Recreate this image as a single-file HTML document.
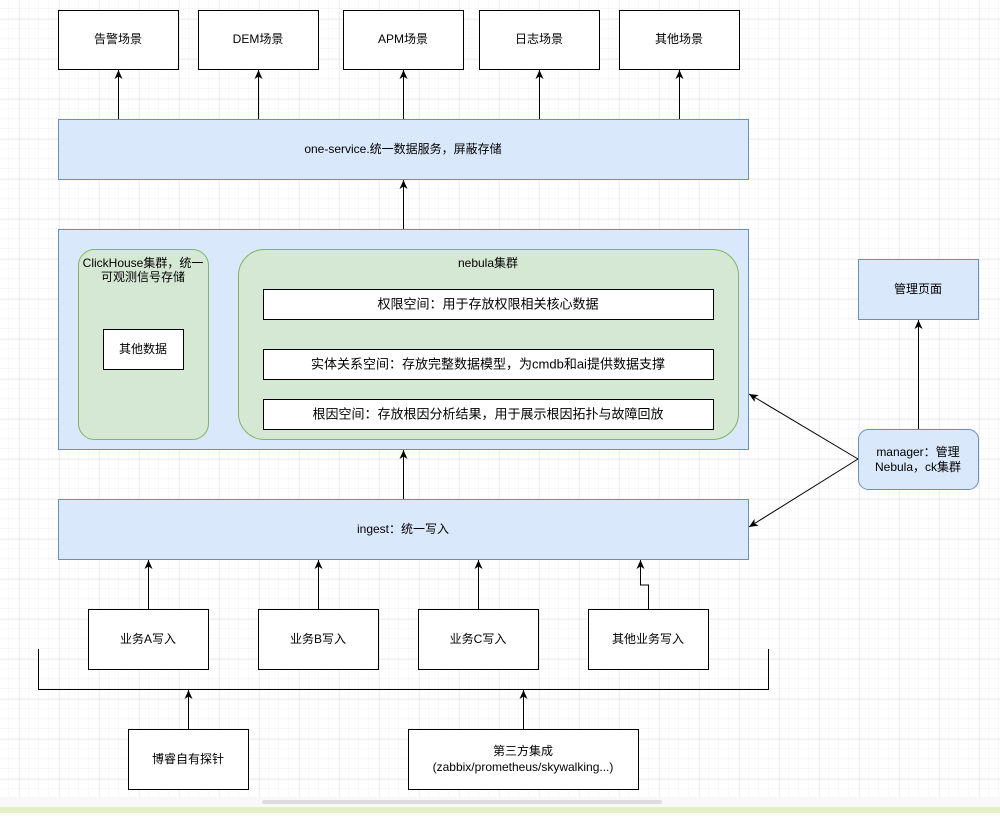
<!DOCTYPE html>
<html><head><meta charset="utf-8"><style>
html,body{margin:0;padding:0;background:#fff;}
svg text{font-family:"Liberation Sans","Noto Sans CJK SC",sans-serif;font-size:12px;fill:#000;text-anchor:middle;dominant-baseline:central;}
</style></head><body>
<svg width="1000" height="813" xmlns="http://www.w3.org/2000/svg">
<defs>
<pattern id="minor" width="10" height="10" patternUnits="userSpaceOnUse" x="-1" y="-1">
<path d="M10 0V10M0 10H10" fill="none" stroke="#f0f0f0" stroke-width="1"/></pattern>
<pattern id="major" width="40" height="40" patternUnits="userSpaceOnUse" x="19.5" y="19.5">
<path d="M0 0V40M0 0H40" fill="none" stroke="#e0e0e0" stroke-width="1"/></pattern>
<marker id="a" markerWidth="10" markerHeight="10" refX="9" refY="5" orient="auto" markerUnits="userSpaceOnUse">
<path d="M0,1 L9,5 L0,9 L2.5,5 Z" fill="#000"/></marker>
</defs>
<rect width="1000" height="797" fill="url(#minor)"/>
<rect width="1000" height="797" fill="url(#major)"/>
<rect y="797" width="1000" height="10" fill="#f8f8f8"/>
<rect x="262" y="800" width="400" height="4" rx="2" fill="#ddd"/>
<rect y="807" width="1000" height="6" fill="#e4efc8"/>
<g stroke="#000" fill="#fff" stroke-width="1">
<rect x="58.5" y="10.5" width="120" height="59"/>
<rect x="198.5" y="10.5" width="120" height="59"/>
<rect x="343.5" y="10.5" width="120" height="59"/>
<rect x="479.5" y="10.5" width="120" height="59"/>
<rect x="619.5" y="10.5" width="120" height="59"/>
</g>
<text x="118" y="39">告警场景</text><text x="258" y="39">DEM场景</text><text x="403" y="39">APM场景</text><text x="539" y="39">日志场景</text><text x="679" y="39">其他场景</text>
<g stroke="#000" fill="none" marker-end="url(#a)">
<path d="M118.5 119V70"/><path d="M258.5 119V70"/><path d="M403.5 119V70"/><path d="M539.5 119V70"/><path d="M679.5 119V70"/>
<path d="M403.5 229V180"/><path d="M403.5 499V450"/>
<path d="M148.5 609V560"/><path d="M318.5 609V560"/><path d="M478.5 609V560"/><path d="M648.5 609V585H640.5V560"/>
<path d="M188.5 729V690"/><path d="M523.5 729V690"/>
<path d="M918.5 429V320"/>
<path d="M858 459L749 394"/><path d="M858 459L749 527"/>
</g>
<path d="M38.5 649V689.5H768.5V649" stroke="#000" fill="none"/>
<g stroke="#6c8ebf" fill="#dae8fc">
<rect x="58.5" y="119.5" width="690" height="60"/>
<rect x="58.5" y="229.5" width="690" height="220"/>
<rect x="58.5" y="499.5" width="690" height="60"/>
<rect x="858.5" y="259.5" width="120" height="60"/>
<rect x="858.5" y="429.5" width="120" height="60" rx="10"/>
</g>
<text x="403" y="149">one-service.统一数据服务，屏蔽存储</text>
<text x="403" y="529">ingest：统一写入</text>
<text x="918" y="289">管理页面</text>
<text x="918" y="452">manager：管理</text><text x="918" y="467">Nebula，ck集群</text>
<g stroke="#82b366" fill="#d5e8d4">
<rect x="78.5" y="249.5" width="130" height="190" rx="16"/>
<rect x="238.5" y="249.5" width="500" height="190" rx="26"/>
</g>
<text x="143" y="263">ClickHouse集群，统一</text><text x="143" y="277">可观测信号存储</text>
<text x="488" y="263">nebula集群</text>
<g stroke="#000" fill="#fff">
<rect x="103.5" y="329.5" width="80" height="40"/>
<rect x="263.5" y="289.5" width="450" height="30"/>
<rect x="263.5" y="349.5" width="450" height="30"/>
<rect x="263.5" y="399.5" width="450" height="30"/>
<rect x="88.5" y="609.5" width="120" height="60"/>
<rect x="258.5" y="609.5" width="120" height="60"/>
<rect x="418.5" y="609.5" width="120" height="60"/>
<rect x="588.5" y="609.5" width="120" height="60"/>
<rect x="128.5" y="729.5" width="120" height="60"/>
<rect x="408.5" y="729.5" width="230" height="60"/>
</g>
<text x="143" y="349">其他数据</text>
<g style="font-size:13px"><text x="488" y="304" style="font-size:13px">权限空间：用于存放权限相关核心数据</text>
<text x="488" y="364" style="font-size:13px">实体关系空间：存放完整数据模型，为cmdb和ai提供数据支撑</text>
<text x="488" y="414" style="font-size:13px">根因空间：存放根因分析结果，用于展示根因拓扑与故障回放</text></g>
<text x="148" y="639">业务A写入</text><text x="318" y="639">业务B写入</text><text x="478" y="639">业务C写入</text><text x="648" y="639">其他业务写入</text>
<text x="188" y="759">博睿自有探针</text>
<text x="523" y="751">第三方集成</text><text x="523" y="767">(zabbix/prometheus/skywalking...)</text>
</svg>
</body></html>
